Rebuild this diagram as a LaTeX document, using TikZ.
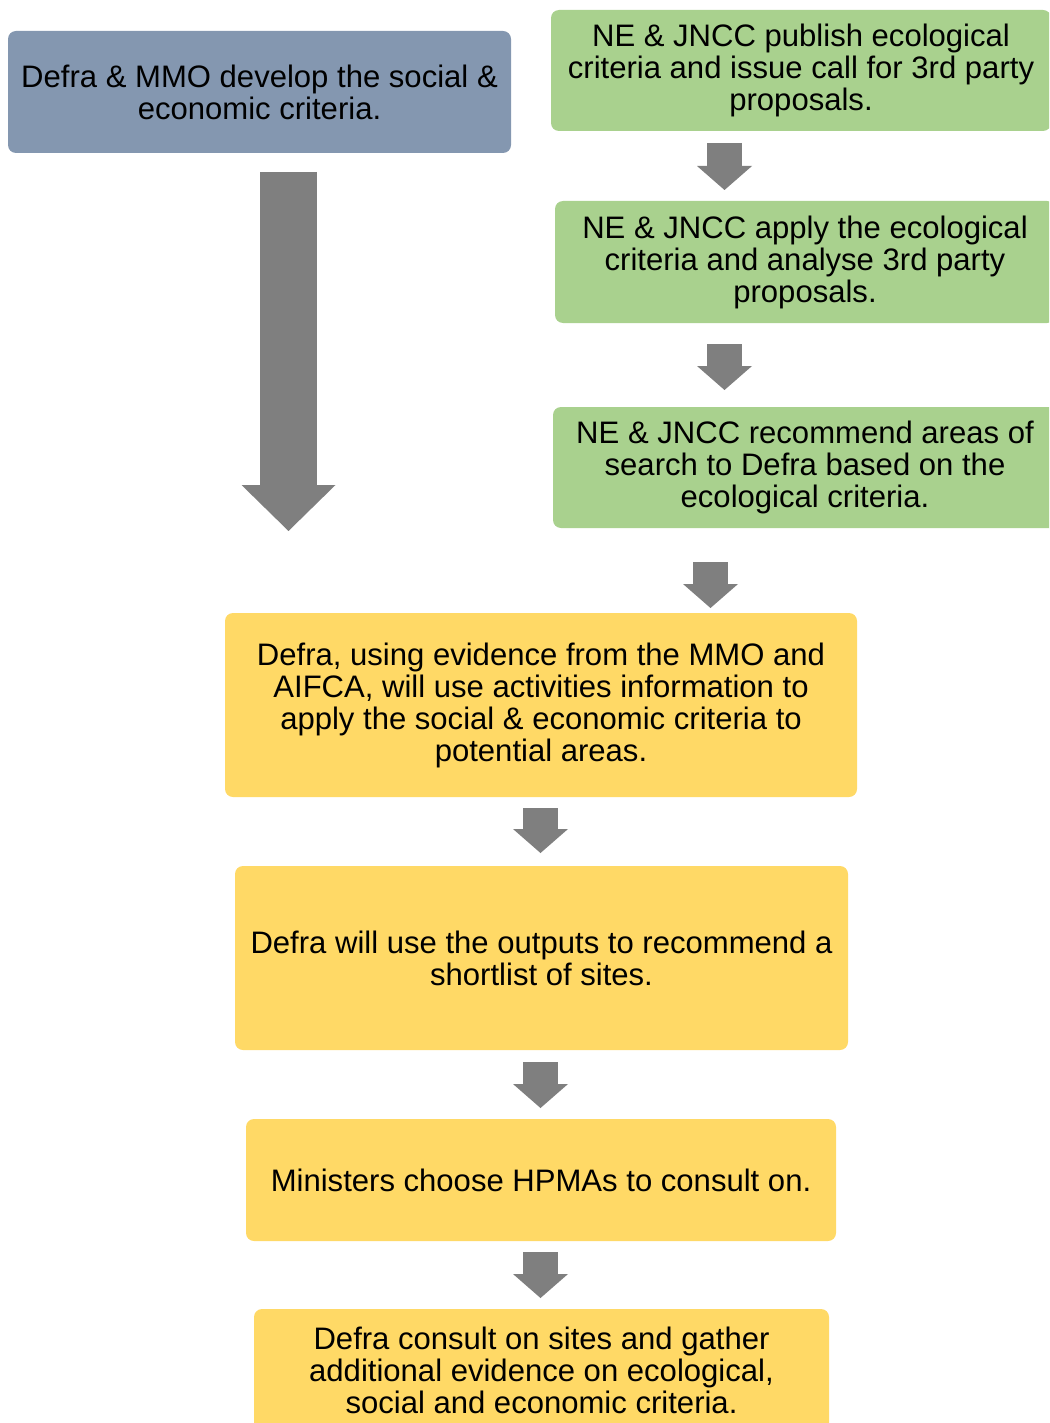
\documentclass[tikz,border=0pt]{standalone}
\usepackage{fontspec}
\setmainfont{Liberation Sans}
\usetikzlibrary{arrows.meta}

\definecolor{defrablue}{RGB}{132,151,176}
\definecolor{ecogreen}{RGB}{169,209,142}
\definecolor{stepyellow}{RGB}{255,217,102}
\definecolor{arrowgray}{RGB}{127,127,127}

\tikzset{every picture/.style={line width=0.75pt},
  stagebox/.style={rounded corners=6pt, inner sep=0pt, outer sep=0pt, align=center, text=black, font=\fontsize{23.3}{24}\selectfont},
  fatarrow/.style={draw=arrowgray, line width=26.25pt, -{Triangle[width=41.25pt,length=18pt,line width=0pt]}},
  tallarrow/.style={draw=arrowgray, line width=42.75pt, -{Triangle[width=70.5pt,length=34.5pt,line width=0pt]}}}

\begin{document}
\begin{tikzpicture}[x=0.75pt,y=0.75pt,yscale=-1,xscale=1]
\useasboundingbox (0,0) rectangle (1049,1423);
\clip (0,0) rectangle (1049,1423);

%Columns of the block arrows
\coordinate (colB) at (288.5,0);
\coordinate (colG) at (724.5,0);
\coordinate (colH) at (710.5,0);
\coordinate (colY) at (540.5,0);
\coordinate (bigend) at (288.5,531);

% Text Node
\node[stagebox, fill=defrablue, minimum width=377.25pt, minimum height=91.5pt] (social) at (259.5,92)
  {Defra \& MMO develop the social \&\\economic criteria.};
% Text Node
\node[stagebox, fill=ecogreen, minimum width=375pt, minimum height=90.75pt] (publish) at (801,70.5)
  {NE \& JNCC publish ecological\\criteria and issue call for 3rd party\\proposals.};
% Text Node
\node[stagebox, fill=ecogreen, minimum width=375pt, minimum height=91.5pt] (apply) at (805,262)
  {NE \& JNCC apply the ecological\\criteria and analyse 3rd party\\proposals.};
% Text Node
\node[stagebox, fill=ecogreen, minimum width=378pt, minimum height=90.75pt] (recommend) at (805,467.5)
  {NE \& JNCC recommend areas of\\search to Defra based on the\\ecological criteria.};
% Text Node
\node[stagebox, fill=stepyellow, minimum width=474pt, minimum height=138pt] (evidence) at (541,705)
  {Defra, using evidence from the MMO and\\AIFCA, will use activities information to\\apply the social \& economic criteria to\\potential areas.};
% Text Node
\node[stagebox, fill=stepyellow, minimum width=459.75pt, minimum height=138pt] (shortlist) at (541.5,958)
  {Defra will use the outputs to recommend a\\shortlist of sites.};
% Text Node
\node[stagebox, fill=stepyellow, minimum width=442.5pt, minimum height=91.5pt] (ministers) at (541,1180)
  {Ministers choose HPMAs to consult on.};
% Text Node
\node[stagebox, fill=stepyellow, minimum width=431.25pt, minimum height=91.5pt] (consult) at (541.5,1370)
  {Defra consult on sites and gather\\additional evidence on ecological,\\social and economic criteria.};

%Block Arrows
\draw[tallarrow, shorten <=14.25pt] (social.south -| colB) -- (bigend);
\draw[fatarrow, shorten <=9pt, shorten >=8.25pt] (publish.south -| colG) -- (apply.north -| colG);
\draw[fatarrow, shorten <=15.75pt, shorten >=12.75pt] (apply.south -| colG) -- (recommend.north -| colG);
\draw[fatarrow, shorten <=25.5pt, shorten >=3.75pt] (recommend.south -| colH) -- (evidence.north -| colH);
\draw[fatarrow, shorten <=8.25pt, shorten >=9.75pt] (evidence.south -| colY) -- (shortlist.north -| colY);
\draw[fatarrow, shorten <=9pt, shorten >=8.25pt] (shortlist.south -| colY) -- (ministers.north -| colY);
\draw[fatarrow, shorten <=8.25pt, shorten >=8.25pt] (ministers.south -| colY) -- (consult.north -| colY);

\end{tikzpicture}
\end{document}
